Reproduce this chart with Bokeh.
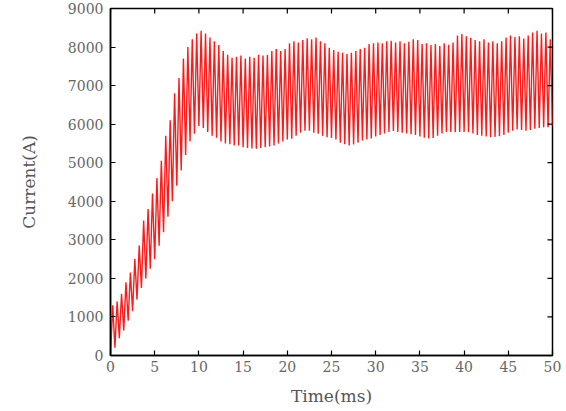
from bokeh.plotting import figure
from bokeh.models import Range1d, FixedTicker, ColumnDataSource
from bokeh.embed import file_html
from bokeh.resources import INLINE
import numpy as np

# Troughs of the oscillating current (A), every 0.5 ms from 0 to 50 ms
troughs = [
    0, 200, 450, 650, 900, 1150, 1450, 1750, 2000, 2250,
    2500, 2850, 3200, 3600, 4000, 4400, 4800, 5200, 5550, 5750,
    5950, 5900, 5800, 5700, 5650, 5550, 5500, 5480, 5450, 5450,
    5400, 5380, 5370, 5360, 5380, 5400, 5420, 5450, 5500, 5550,
    5600, 5620, 5700, 5780, 5830, 5830, 5780, 5750, 5700, 5660,
    5640, 5600, 5520, 5480, 5450, 5470, 5520, 5580, 5600, 5630,
    5680, 5720, 5760, 5800, 5820, 5800, 5780, 5760, 5740, 5720,
    5680, 5650, 5630, 5640, 5700, 5760, 5800, 5800, 5790, 5800,
    5800, 5790, 5760, 5720, 5700, 5680, 5660, 5670, 5690, 5720,
    5780, 5830, 5860, 5850, 5830, 5850, 5880, 5900, 5920, 5920,
    5950,
]
# Peaks of the oscillating current (A), every 0.5 ms from 0.25 to 49.75 ms
peaks = [
    1300, 1400, 1600, 1900, 2150, 2500, 2850, 3500, 3800, 4200,
    4600, 5050, 5700, 6100, 6800, 7200, 7700, 8000, 8200, 8350,
    8420, 8350, 8250, 8150, 8050, 7900, 7800, 7720, 7750, 7780,
    7700, 7750, 7720, 7800, 7780, 7800, 7900, 7950, 7900, 7950,
    8100, 8150, 8120, 8180, 8230, 8200, 8250, 8150, 8100, 7980,
    7920, 7880, 7850, 7820, 7850, 7900, 7950, 7980, 8080, 8100,
    8120, 8100, 8150, 8160, 8120, 8150, 8100, 8140, 8200, 8180,
    8080, 8100, 8050, 8080, 8030, 8100, 8060, 8120, 8300, 8340,
    8280, 8240, 8180, 8150, 8200, 8120, 8150, 8100, 8150, 8250,
    8300, 8260, 8280, 8220, 8300, 8380, 8420, 8350, 8380, 8200,
]
x_ticks = [0, 5, 10, 15, 20, 25, 30, 35, 40, 45, 50]
y_ticks = [0, 1000, 2000, 3000, 4000, 5000, 6000, 7000, 8000, 9000]

X_MIN, X_MAX = 0, 50
Y_MIN, Y_MAX = 0, 9000

trough_t = np.arange(len(troughs)) * 0.5
peak_t = np.arange(len(peaks)) * 0.5 + 0.25
t = []
i_vals = []
for k in range(len(troughs)):
    t.append(trough_t[k]); i_vals.append(troughs[k])
    if k < len(peaks):
        t.append(peak_t[k]); i_vals.append(peaks[k])

src = ColumnDataSource(dict(t=t, i=i_vals))

FONT = "DejaVu Serif"
p = figure(frame_width=442, frame_height=347,
           min_border_left=110, min_border_right=14, min_border_top=8, min_border_bottom=20,
           output_backend="svg", toolbar_location=None,
           x_range=Range1d(X_MIN, X_MAX), y_range=Range1d(Y_MIN, Y_MAX))
p.background_fill_color = "white"
p.border_fill_color = "white"
p.outline_line_color = "black"
p.outline_line_width = 1.5
p.xgrid.visible = False
p.ygrid.visible = False

p.line("t", "i", source=src, line_color="#ff1a1a", line_width=1.4)

for ax, ticks in ((p.xaxis[0], x_ticks), (p.yaxis[0], y_ticks)):
    ax.ticker = FixedTicker(ticks=ticks)
    ax.major_tick_in = 5
    ax.major_tick_out = 0
    ax.minor_tick_line_color = None
    ax.axis_line_color = "black"
    ax.axis_line_width = 1.5
    ax.major_tick_line_width = 1.2
    ax.major_label_text_font = FONT
    ax.major_label_text_font_size = "14px"
    ax.major_label_text_color = "#666666"
    ax.axis_label_text_font = FONT
    ax.axis_label_text_font_style = "normal"
    ax.axis_label_text_font_size = "17px"
    ax.axis_label_text_color = "#555555"

p.xaxis[0].axis_label = "Time(ms)"
p.xaxis[0].major_label_standoff = 5
p.xaxis[0].axis_label_standoff = 11
p.yaxis[0].axis_label = "Current(A)"
p.yaxis[0].major_label_standoff = 7
p.yaxis[0].axis_label_standoff = 26

# mirrored inward ticks on the top and right edges of the frame
p.ray(x=x_ticks, y=[Y_MAX] * len(x_ticks), length=5, length_units="screen",
      angle=-np.pi / 2, line_color="black", line_width=1.2)
p.ray(x=[X_MAX] * len(y_ticks), y=y_ticks, length=5, length_units="screen",
      angle=np.pi, line_color="black", line_width=1.2)

open("out.html", "w").write(file_html(p, INLINE))
